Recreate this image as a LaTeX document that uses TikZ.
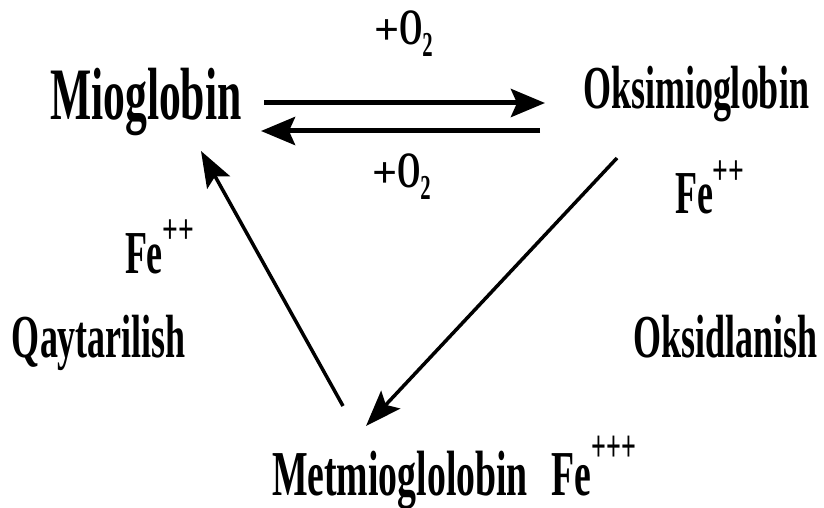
\documentclass[tikz,border=0pt]{standalone}
\usepackage{fontspec}
\usepackage{graphicx}
\setmainfont{Liberation Serif}[FakeStretch=0.59]
\newfontfamily\plusfont{Liberation Serif}
\usetikzlibrary{arrows.meta}
\newcommand\fsz[1]{\fontsize{#1}{#1}\selectfont\bfseries}
\newcommand\ionsup[4]{\raisebox{#3pt}{\scalebox{#2}[1]{\plusfont\fontsize{#1}{#1}\selectfont #4}}}
\newcommand\oxy{{\plusfont\fontsize{44}{44}\selectfont +}O\raisebox{-12pt}{\fontsize{35}{35}\selectfont\bfseries 2}}
\tikzset{
  lbl/.style={anchor=base west, inner sep=0pt, outer sep=0pt, text=black},
  thick arrow/.style={line width=5pt, -{Stealth[length=34pt, width=28pt, inset=6pt]}},
  diag arrow/.style={line width=3.5pt, -{Stealth[length=36pt, width=26pt, inset=7pt]}}
}
\begin{document}
\begin{tikzpicture}[x=1pt,y=-1pt]
\useasboundingbox (0,0) rectangle (824,508);
\node[lbl] (mio) at (50,120) {\fsz{74}Mioglobin};
\node[lbl] (oksi) at (583,109) {\fsz{61}Oksimioglobin};
\node[lbl] (met) at (272,495) {\fsz{64}Metmioglolobin\hspace{24pt}Fe\ionsup{45}{0.58}{34}{+++}};
\node[lbl] (o2top) at (374,45) {\fsz{51}\oxy};
\node[lbl] (o2bot) at (372,187) {\fsz{51}\oxy};
\node[lbl] (feL) at (125,273) {\fsz{61}Fe\ionsup{42}{0.66}{30}{++}};
\node[lbl] (qay) at (12,357) {\fsz{61}Qaytarilish};
\node[lbl] (feR) at (675,213) {\fsz{61}Fe\ionsup{42}{0.66}{29}{++}};
\node[lbl] (oks) at (633,357) {\fsz{61}Oksidlanish};
\coordinate (a1s) at (264,103);
\coordinate (a1e) at (545,103);
\coordinate (a2s) at (540,131);
\coordinate (a2e) at (261,131);
\coordinate (a3s) at (617,158);
\coordinate (a3e) at (366,426);
\coordinate (a4s) at (343,406);
\coordinate (a4e) at (201,151);
\draw[thick arrow] (a1s) -- (a1e);
\draw[thick arrow] (a2s) -- (a2e);
\draw[diag arrow] (a3s) -- (a3e);
\draw[diag arrow] (a4s) -- (a4e);
\end{tikzpicture}
\end{document}
